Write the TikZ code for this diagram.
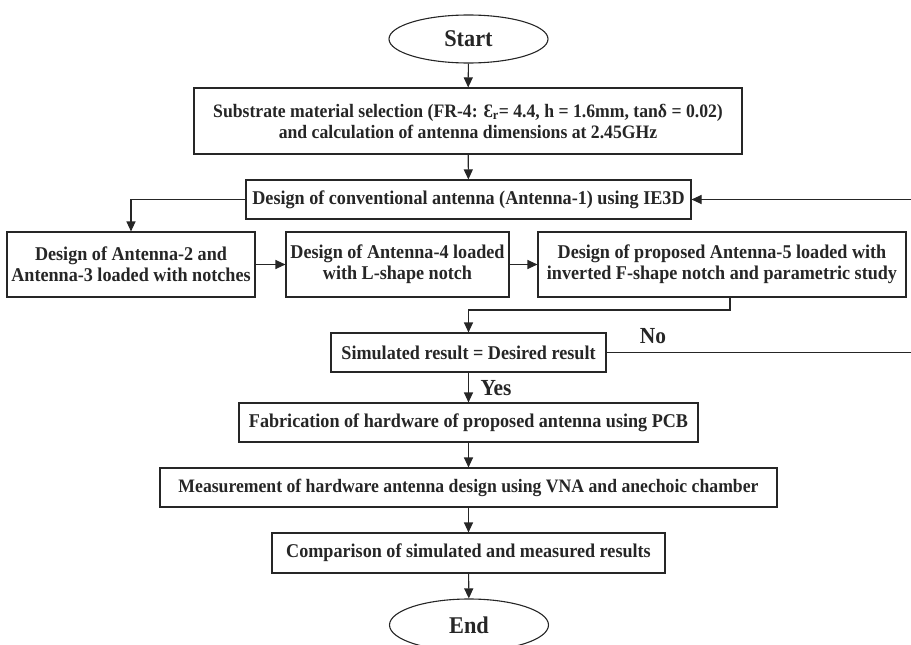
\documentclass[tikz,border=0pt]{standalone}
\usepackage{fontspec}
\setmainfont{Liberation Serif}[FakeStretch=0.93]
\usetikzlibrary{shapes.geometric,arrows.meta,calc}
\definecolor{ink}{HTML}{262626}
\begin{document}
\begin{tikzpicture}[x=1pt,y=-1pt,
  every node/.style={text=ink},
  box/.style={draw=ink, line width=1.1pt, inner sep=0pt, align=center,
    font=\bfseries\fontsize{19.5}{21}\selectfont},
  wide/.style={font=\bfseries\fontsize{19}{21}\selectfont},
  term/.style={ellipse, draw=ink, line width=1.1pt, inner sep=0pt,
    minimum width=159pt, font=\bfseries\fontsize{24}{26}\selectfont},
  conn/.style={draw=ink, line width=1.1pt},
  arr/.style={conn, -{Triangle[length=10pt,width=9pt]}},
  lbl/.style={font=\bfseries\fontsize{23}{24}\selectfont, inner sep=0pt}
]
\useasboundingbox (0,0) rectangle (911,645);

\node[term, minimum height=48pt] (start) at (468.5,39) {Start};
\node[box, wide, minimum width=548pt, minimum height=66pt] (sub) at (468,121)
  {Substrate material selection (FR-4: Ɛ\textsubscript{r}= 4.4, h = 1.6mm, tanδ = 0.02)\\and calculation of antenna dimensions at 2.45GHz};
\node[box, minimum width=445pt, minimum height=39pt] (conv) at (468.5,199.5)
  {Design of conventional antenna (Antenna-1) using IE3D};
\node[box, minimum width=248pt, minimum height=65pt] (a23) at (131,264.5)
  {Design of Antenna-2 and\\Antenna-3 loaded with notches};
\node[box, minimum width=223pt, minimum height=65pt] (a4) at (397.5,264.5)
  {Design of Antenna-4 loaded\\with L-shape notch};
\node[box, minimum width=368pt, minimum height=65pt] (a5) at (722,264.5)
  {Design of proposed Antenna-5 loaded with\\inverted F-shape notch and parametric study};
\node[box, minimum width=275pt, minimum height=39pt] (sim) at (468.5,352.5)
  {Simulated result = Desired result};
\node[box, minimum width=459pt, minimum height=39pt] (fab) at (468.5,422.5)
  {Fabrication of hardware of proposed antenna using PCB};
\node[box, wide, minimum width=617pt, minimum height=39pt] (meas) at (468.5,487.5)
  {Measurement of hardware antenna design using VNA and anechoic chamber};
\node[box, minimum width=393pt, minimum height=40pt] (comp) at (468.5,553)
  {Comparison of simulated and measured results};
\node[term, minimum height=52pt] (end) at (469,625) {End};

\coordinate (a5out) at (730,297);
\coordinate (j1) at (730,310);
\coordinate (rt) at (915,352.5);

\draw[arr] (start) -- (sub);
\draw[arr] (sub) -- (conv);
\draw[arr] (conv.west) -| (a23.north);
\draw[arr] (a23) -- (a4);
\draw[arr] (a4) -- (a5);
\draw[arr] (a5out) -- (j1) -| (sim.north);
\draw[arr] (sim) -- (fab);
\draw[arr] (fab) -- (meas);
\draw[arr] (meas) -- (comp);
\draw[arr] (comp) -- (end);
\draw[arr] (sim.east) -- (rt) |- (conv.east);

\node[lbl] (no) at (653,336) {No};
\node[lbl] (yes) at (496,388) {Yes};
\end{tikzpicture}
\end{document}
